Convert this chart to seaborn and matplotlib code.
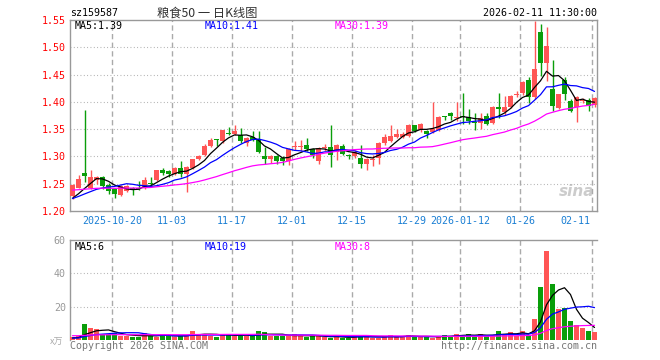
import numpy as np
import pandas as pd
import seaborn as sns
import matplotlib.pyplot as plt

############################## data ##############################

# daily candles, 2025-10-09 .. 2026-02-11 (88 trading days)
opens = [1.228, 1.243, 1.270, 1.242, 1.257, 1.263, 1.248, 1.240, 1.230, 1.237,
         1.242, 1.243, 1.243, 1.252, 1.257, 1.276, 1.274, 1.268, 1.279, 1.268,
         1.279, 1.295, 1.303, 1.320, 1.332, 1.329, 1.342, 1.341, 1.339, 1.324,
         1.336, 1.332, 1.300, 1.295, 1.300, 1.298, 1.291, 1.318, 1.318, 1.321,
         1.313, 1.292, 1.315, 1.317, 1.309, 1.319, 1.302, 1.301, 1.298, 1.286,
         1.293, 1.297, 1.324, 1.329, 1.335, 1.336, 1.338, 1.357, 1.348, 1.347,
         1.345, 1.349, 1.374, 1.379, 1.371, 1.374, 1.372, 1.364, 1.361, 1.375,
         1.362, 1.391, 1.381, 1.390, 1.413, 1.416, 1.440, 1.409, 1.528, 1.472,
         1.424, 1.389, 1.440, 1.401, 1.391, 1.402, 1.403, 1.394]
highs = [1.250, 1.266, 1.385, 1.275, 1.264, 1.264, 1.252, 1.243, 1.247, 1.248,
         1.244, 1.255, 1.262, 1.262, 1.276, 1.278, 1.276, 1.281, 1.291, 1.283,
         1.296, 1.302, 1.322, 1.334, 1.332, 1.349, 1.354, 1.357, 1.353, 1.336,
         1.346, 1.347, 1.317, 1.302, 1.302, 1.300, 1.315, 1.328, 1.331, 1.333,
         1.316, 1.318, 1.322, 1.357, 1.322, 1.323, 1.305, 1.312, 1.321, 1.297,
         1.302, 1.326, 1.342, 1.358, 1.350, 1.345, 1.360, 1.358, 1.362, 1.349,
         1.399, 1.374, 1.375, 1.381, 1.400, 1.416, 1.386, 1.380, 1.380, 1.380,
         1.392, 1.416, 1.410, 1.413, 1.419, 1.438, 1.445, 1.549, 1.542, 1.537,
         1.476, 1.415, 1.446, 1.405, 1.410, 1.407, 1.407, 1.408]
lows = [1.222, 1.242, 1.254, 1.240, 1.250, 1.241, 1.231, 1.224, 1.228, 1.234,
        1.229, 1.238, 1.240, 1.245, 1.255, 1.266, 1.262, 1.266, 1.262, 1.235,
        1.277, 1.293, 1.300, 1.318, 1.320, 1.325, 1.340, 1.339, 1.325, 1.320,
        1.328, 1.306, 1.286, 1.288, 1.286, 1.285, 1.285, 1.312, 1.310, 1.310,
        1.298, 1.287, 1.310, 1.280, 1.294, 1.302, 1.296, 1.298, 1.279, 1.275,
        1.283, 1.286, 1.321, 1.327, 1.333, 1.334, 1.335, 1.344, 1.345, 1.333,
        1.343, 1.347, 1.366, 1.366, 1.365, 1.360, 1.360, 1.349, 1.350, 1.357,
        1.360, 1.370, 1.376, 1.388, 1.408, 1.412, 1.398, 1.405, 1.448, 1.439,
        1.383, 1.386, 1.403, 1.381, 1.363, 1.398, 1.384, 1.390]
closes = [1.248, 1.259, 1.265, 1.263, 1.262, 1.245, 1.237, 1.231, 1.245, 1.245,
          1.238, 1.240, 1.257, 1.250, 1.275, 1.270, 1.268, 1.279, 1.268, 1.280,
          1.295, 1.300, 1.320, 1.331, 1.330, 1.348, 1.341, 1.347, 1.328, 1.333,
          1.331, 1.309, 1.295, 1.300, 1.291, 1.291, 1.313, 1.320, 1.320, 1.313,
          1.302, 1.316, 1.317, 1.302, 1.321, 1.304, 1.300, 1.309, 1.286, 1.295,
          1.296, 1.324, 1.336, 1.338, 1.342, 1.342, 1.357, 1.347, 1.360, 1.342,
          1.350, 1.373, 1.372, 1.375, 1.373, 1.372, 1.365, 1.362, 1.370, 1.359,
          1.391, 1.387, 1.391, 1.411, 1.415, 1.436, 1.409, 1.461, 1.472, 1.502,
          1.392, 1.414, 1.414, 1.384, 1.409, 1.404, 1.393, 1.407]
# volume, x万
volumes = [2.0, 2.4, 9.6, 7.0, 6.6, 3.6, 3.4, 4.4, 2.4, 2.4,
           2.0, 2.0, 4.0, 2.4, 2.0, 3.6, 2.4, 2.0, 2.4, 2.4,
           5.4, 3.6, 3.6, 2.4, 2.0, 3.6, 3.6, 2.4, 2.4, 2.4,
           2.4, 5.4, 4.8, 2.4, 2.4, 2.4, 2.4, 3.6, 2.4, 2.0,
           2.4, 2.4, 2.0, 1.0, 2.4, 1.4, 1.4, 2.4, 2.4, 2.4,
           1.0, 1.4, 2.4, 3.0, 1.8, 1.8, 3.0, 2.0, 2.0, 2.0,
           1.2, 2.4, 3.0, 2.4, 3.6, 2.4, 3.6, 2.4, 3.6, 2.4,
           2.4, 5.4, 3.6, 4.8, 2.4, 5.4, 2.4, 12.6, 31.8, 53.4,
           33.6, 18.6, 19.4, 11.4, 9.0, 7.0, 5.6, 4.6]

# moving-average levels just before the first visible day
price_ma_start = {5: 1.217, 10: 1.220, 30: 1.238}
vol_ma_start = {5: 1.0, 10: 1.0, 30: 2.6}

tick_days = [7, 17, 27, 37, 47, 57, 65, 75, 87]
tick_labels = ['2025-10-20', '11-03', '11-17', '12-01', '12-15',
               '12-29', '2026-01-12', '01-26', '02-11']
price_ticks = [1.20, 1.25, 1.30, 1.35, 1.40, 1.45, 1.50, 1.55]
vol_ticks = [20, 40, 60]

ma_colors = {5: '#000000', 10: '#0000ff', 30: '#ff00ff'}
price_ma_text = {5: 'MA5:1.39', 10: 'MA10:1.41', 30: 'MA30:1.39'}
vol_ma_text = {5: 'MA5:6', 10: 'MA10:19', 30: 'MA30:8'}

RED = '#ff5555'
GREEN = '#0a9e0a'
GRID = '#aaaaaa'

############################## frame ##############################

df = pd.DataFrame({'open': opens, 'high': highs, 'low': lows,
                   'close': closes, 'vol': volumes})
df['day'] = np.arange(len(df))
df['dir'] = np.where(df['close'] >= df['open'], 'up', 'down')


def moving_average(series, n, start):
    # pad with the level before the window so the line starts at the left edge
    padded = pd.concat([pd.Series([start] * (n - 1)), series], ignore_index=True)
    return padded.rolling(n).mean().iloc[n - 1:].to_numpy()


sns.set_theme(style='white')
plt.rcParams['font.family'] = ['DejaVu Sans Mono', 'Noto Sans CJK SC']
CJK = ['Noto Sans CJK SC', 'DejaVu Sans']
FS = 7.2

W, H = 660, 360
fig = plt.figure(figsize=(W / 100, H / 100), dpi=100)
ax = fig.add_axes([70 / W, 1 - 211 / H, 527 / W, 191 / H])
axv = fig.add_axes([70 / W, 1 - 340 / H, 527 / W, 100 / H])

xlim = (-0.4167, -0.4167 + 527 / 6)

############################## price panel ##############################

colors = np.where(df['dir'] == 'up', RED, GREEN)
ax.vlines(df['day'], df['low'], df['high'], colors=colors, lw=1.0, zorder=3)
body_lo = df[['open', 'close']].min(axis=1)
body_h = (df['close'] - df['open']).abs().clip(lower=0.0018)
ax.bar(df['day'], body_h, bottom=body_lo, width=0.8, color=colors,
       linewidth=0, zorder=4)

for n, col in ma_colors.items():
    sns.lineplot(x=df['day'], y=moving_average(df['close'], n, price_ma_start[n]),
                 color=col, lw=0.9, ax=ax, zorder=5)

ax.set_xlim(*xlim)
ax.set_ylim(1.20, 1.55)
ax.set_xlabel('')
ax.set_ylabel('')
ax.set_yticks(price_ticks)
ax.set_yticklabels([f'{t:.2f}' for t in price_ticks], fontsize=FS)
ax.tick_params(axis='y', length=0, pad=3, labelcolor='#ff0000')
ax.set_xticks([])
for t in price_ticks[1:-1]:
    ax.axhline(t, color=GRID, lw=0.8, ls=(0, (0.8, 2.2)), zorder=1)

lab_tr = ax.get_xaxis_transform()
for d, lab in zip(tick_days, tick_labels):
    ax.axvline(d - 0.4, color=GRID, lw=1.0, ls=(0, (3.8, 2.4)), zorder=1)
    axv.axvline(d - 0.4, color=GRID, lw=1.0, ls=(0, (3.8, 2.4)), zorder=1)
    if d - 0.4 > 84:
        ax.text(86.25, -0.051, lab, transform=lab_tr, ha='right', va='center',
                fontsize=FS, color='#1a7fd4')
    else:
        ax.text(d - 0.4, -0.051, lab, transform=lab_tr, ha='center', va='center',
                fontsize=FS, color='#1a7fd4')

for s in ax.spines.values():
    s.set_color('#999999')
    s.set_linewidth(1.0)

for (n, txt), xp in zip(price_ma_text.items(), [75, 205, 335]):
    fig.text(xp / W, 1 - 26 / H, txt, ha='left', va='center', fontsize=FS,
             color=ma_colors[n])

# sina watermark
ax.text(0.995, 0.1, 'sina', transform=ax.transAxes, ha='right', va='center',
        fontsize=11, fontweight='bold', style='italic', color='#cccccc',
        family='DejaVu Sans', zorder=0)

############################## volume panel ##############################

sns.barplot(data=df, x='day', y='vol', hue='dir', palette={'up': RED, 'down': GREEN},
            native_scale=True, dodge=False, width=0.8, saturation=1,
            errorbar=None, legend=False, ax=axv, linewidth=0, zorder=3)
for n, col in ma_colors.items():
    sns.lineplot(x=df['day'], y=moving_average(df['vol'], n, vol_ma_start[n]),
                 color=col, lw=0.9, ax=axv, zorder=5)

axv.set_xlim(*xlim)
axv.set_ylim(0, 60)
axv.set_xlabel('')
axv.set_ylabel('')
axv.set_xticks([])
axv.set_yticks(vol_ticks)
axv.set_yticklabels([str(t) for t in vol_ticks], fontsize=FS)
axv.tick_params(axis='y', length=0, pad=3, labelcolor='#999999')
for t in vol_ticks[:-1]:
    axv.axhline(t, color=GRID, lw=0.8, ls=(0, (0.8, 2.2)), zorder=1)
for side in ['bottom', 'right']:
    axv.spines[side].set_visible(False)
for side in ['left', 'top']:
    axv.spines[side].set_color('#999999')
    axv.spines[side].set_linewidth(1.0)

for (n, txt), xp in zip(vol_ma_text.items(), [75, 205, 335]):
    fig.text(xp / W, 1 - 246.5 / H, txt, ha='left', va='center', fontsize=FS,
             color=ma_colors[n])

############################## header / footer ##############################

fig.text(70 / W, 1 - 13.5 / H, 'sz159587', ha='left', va='center', fontsize=FS,
         color='#000000')
fig.text(207 / W, 1 - 13 / H, '粮食50 一 日K线图', ha='center', va='center',
         fontsize=8.8, color='#333333', family=CJK)
fig.text(597 / W, 1 - 13.5 / H, '2026-02-11 11:30:00', ha='right', va='center',
         fontsize=FS, color='#000000')
fig.text(63 / W, 1 - 342 / H, 'x万', ha='right', va='center', fontsize=6.5,
         color='#aaaaaa', family=CJK, style='italic')
fig.text(70 / W, 1 - 346 / H, 'Copyright 2026 SINA.COM', ha='left', va='center',
         fontsize=FS, color='#777777')
fig.text(597 / W, 1 - 346 / H, 'http://finance.sina.com.cn', ha='right',
         va='center', fontsize=FS, color='#777777')

fig.savefig('out.png', dpi=100, facecolor='white')
